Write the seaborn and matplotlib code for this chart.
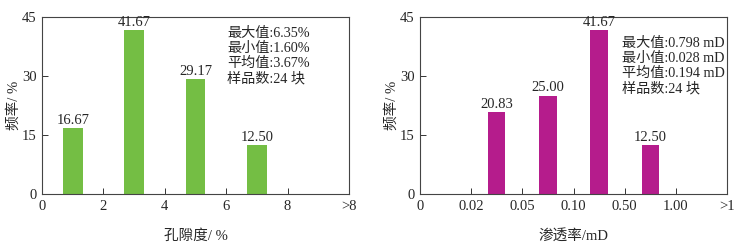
import numpy as np
import pandas as pd
import matplotlib
matplotlib.use("Agg")
import matplotlib.pyplot as plt
import seaborn as sns

# Data
por_centers = [1, 3, 5, 7]
por_freq = [16.67, 41.67, 29.17, 12.50]
por_ticks = [0, 2, 4, 6, 8, 10]
por_ticklabels = ["0", "2", "4", "6", "8", ">8"]
por_stats = ["最大值:6.35%", "最小值:1.60%", "平均值:3.67%", "样品数:24 块"]

perm_centers = [1.5, 2.5, 3.5, 4.5]
perm_freq = [20.83, 25.00, 41.67, 12.50]
perm_ticks = [0, 1, 2, 3, 4, 5, 6]
perm_ticklabels = ["0", "0.02", "0.05", "0.10", "0.50", "1.00", ">1"]
perm_stats = ["最大值:0.798 mD", "最小值:0.028 mD", "平均值:0.194 mD", "样品数:24 块"]

sns.set_theme(style="ticks")
plt.rcParams["font.family"] = ["Liberation Serif", "Noto Sans CJK SC", "DejaVu Sans"]
plt.rcParams["axes.unicode_minus"] = False

fig = plt.figure(figsize=(7.45, 2.48), dpi=100)
ax1 = fig.add_axes([42 / 745, 54 / 248, 307 / 745, 177 / 248])
ax2 = fig.add_axes([420 / 745, 54 / 248, 307 / 745, 177 / 248])


def draw(ax, centers, freq, color, width, xlim, ticks, ticklabels, xlabel, stats, sx, sy):
    df = pd.DataFrame({"x": centers, "y": freq})
    sns.barplot(data=df, x="x", y="y", native_scale=True, width=width,
                color=color, saturation=1, edgecolor="none", ax=ax)
    for c, v in zip(centers, freq):
        ax.text(c, v + 0.3, f"{v:.2f}", ha="center", va="bottom", fontsize=10.5)
    ax.set_xlim(*xlim)
    ax.set_ylim(0, 45)
    ax.set_yticks([0, 15, 30, 45])
    ax.set_xticks(ticks)
    ax.set_xticklabels(ticklabels)
    ax.tick_params(direction="in", length=4, width=0.7, labelsize=10.5, color="#333333", pad=4)
    ax.set_xlabel(xlabel, fontsize=10.5, labelpad=12)
    ax.set_ylabel("频率/ %", fontsize=10.5, labelpad=1)
    for s in ax.spines.values():
        s.set_linewidth(0.8)
        s.set_color("#444444")
    for i, t in enumerate(stats):
        ax.text(sx, sy - i * 0.087, t, transform=ax.transAxes, fontsize=10.2,
                va="center", ha="left")


draw(ax1, por_centers, por_freq, "#74be44", 0.32, (0, 10), por_ticks, por_ticklabels,
     "孔隙度/ %", por_stats, (227 - 42) / 307, (194 - 33) / 177)
draw(ax2, perm_centers, perm_freq, "#b51c8c", 0.34, (0, 6), perm_ticks, perm_ticklabels,
     "渗透率/mD", perm_stats, (622 - 420) / 307, (194 - 43) / 177)

fig.savefig("out.png", dpi=100)
